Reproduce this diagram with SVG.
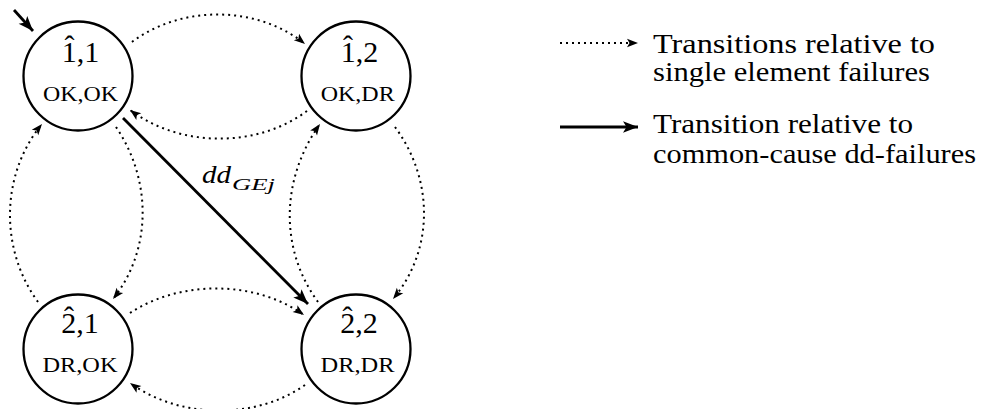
<svg xmlns="http://www.w3.org/2000/svg" width="983" height="409" viewBox="0 0 983 409">
  <style>
    .state { fill: #fff; stroke: #000; stroke-width: 2.3; }
    .title { font-family: "Liberation Serif", "Times New Roman", serif; font-size: 30px; fill: #000; text-anchor: middle; }
    .sub { font-family: "Liberation Serif", "Times New Roman", serif; font-size: 21px; fill: #000; text-anchor: middle; }
    .dotted { fill: none; stroke: #000; stroke-width: 2; stroke-dasharray: 2 4; }
    .solid { fill: none; stroke: #000; stroke-width: 2.8; }
    .legend { font-family: "Liberation Serif", "Times New Roman", serif; font-size: 28px; fill: #000; }
    .label { font-family: "Liberation Serif", "Times New Roman", serif; font-style: italic; fill: #000; }
  </style>
  <defs>
    <marker id="tip" markerUnits="userSpaceOnUse" viewBox="-12 -6 13 12" refX="0" refY="0" markerWidth="13" markerHeight="12" orient="auto">
      <path d="M0,0 L-11,-4.2 L-8.5,0 L-11,4.2 Z" fill="#000"/>
    </marker>
    <marker id="tipBig" markerUnits="userSpaceOnUse" viewBox="-16 -8 17 16" refX="0" refY="0" markerWidth="17" markerHeight="16" orient="auto">
      <path d="M0,0 L-15,-5.8 L-11.5,0 L-15,5.8 Z" fill="#000"/>
    </marker>
  </defs>

  <!-- transitions -->
  <g id="connectors">
    <!-- initial state marker -->
    <path class="solid" d="M14,10 L33,31" stroke-width="2" marker-end="url(#tipBig)"/>
    <!-- top pair -->
    <path class="dotted" d="M132,42 C181,5 257,5 305,44" marker-end="url(#tip)"/>
    <path class="dotted" d="M307,111 C257,148 181,148 130,110" marker-end="url(#tip)"/>
    <!-- left pair -->
    <path class="dotted" d="M38,302 C0,250 0,175 42,124" marker-end="url(#tip)"/>
    <path class="dotted" d="M116,127 C152,180 152,250 113,299" marker-end="url(#tip)"/>
    <!-- right pair -->
    <path class="dotted" d="M395,127 C434,180 434,250 393,299" marker-end="url(#tip)"/>
    <path class="dotted" d="M318,302 C280,250 280,180 320,124" marker-end="url(#tip)"/>
    <!-- bottom pair -->
    <path class="dotted" d="M130,313 C180,280 255,280 304,315" marker-end="url(#tip)"/>
    <path class="dotted" d="M305,385 C256,419.5 181,419.5 130,383" marker-end="url(#tip)"/>
    <!-- common-cause transition -->
    <path class="solid" d="M123,118 L308,304" marker-end="url(#tipBig)"/>
    <text class="label" x="202" y="183" font-size="25" textLength="29" lengthAdjust="spacingAndGlyphs">dd</text>
    <text class="label" x="232" y="190" font-size="17" textLength="43" lengthAdjust="spacingAndGlyphs">GEj</text>
  </g>

  <!-- states: hatted index pair, then element conditions -->
  <g id="s11">
    <circle class="state" cx="78" cy="76" r="54.5"/>
    <text class="title"><tspan x="69.5" y="56">ˆ</tspan><tspan x="80.5" y="62">1,1</tspan></text>
    <text class="sub" x="80.5" y="100.5" textLength="75" lengthAdjust="spacingAndGlyphs">OK,OK</text>
  </g>
  <g id="s12">
    <circle class="state" cx="356" cy="76" r="54.5"/>
    <text class="title"><tspan x="348" y="56">ˆ</tspan><tspan x="359.5" y="62">1,2</tspan></text>
    <text class="sub" x="357.7" y="100.5" textLength="74" lengthAdjust="spacingAndGlyphs">OK,DR</text>
  </g>
  <g id="s21">
    <circle class="state" cx="78" cy="349" r="54.5"/>
    <text class="title"><tspan x="69" y="326.7">ˆ</tspan><tspan x="80" y="332.7">2,1</tspan></text>
    <text class="sub" x="80" y="371.7" textLength="75" lengthAdjust="spacingAndGlyphs">DR,OK</text>
  </g>
  <g id="s22">
    <circle class="state" cx="356" cy="349" r="54.5"/>
    <text class="title"><tspan x="347.5" y="326.7">ˆ</tspan><tspan x="359" y="332.7">2,2</tspan></text>
    <text class="sub" x="357.5" y="371.7" textLength="74" lengthAdjust="spacingAndGlyphs">DR,DR</text>
  </g>

  <!-- legend -->
  <g id="legend">
    <path class="dotted" d="M560,43 L638,43" marker-end="url(#tip)"/>
    <text class="legend" x="653" y="53" textLength="282" lengthAdjust="spacingAndGlyphs">Transitions relative to</text>
    <text class="legend" x="653" y="81" textLength="277" lengthAdjust="spacingAndGlyphs">single element failures</text>
    <path class="solid" d="M560,127 L638,127" stroke-width="3" marker-end="url(#tipBig)"/>
    <text class="legend" x="653" y="133" textLength="260" lengthAdjust="spacingAndGlyphs">Transition relative to</text>
    <text class="legend" x="653" y="163" textLength="323" lengthAdjust="spacingAndGlyphs">common-cause dd-failures</text>
  </g>
</svg>
